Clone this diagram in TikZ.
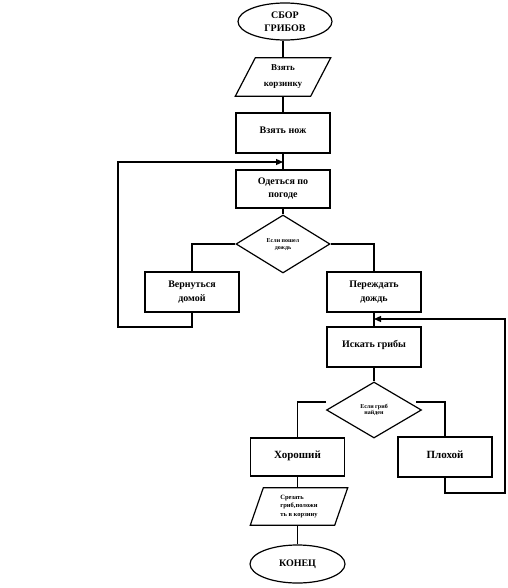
\documentclass[tikz,border=0pt]{standalone}
\usepackage{fontspec}
\setmainfont{Liberation Serif}
\usetikzlibrary{shapes.geometric,arrows.meta,calc}
\tikzset{
  ln/.style={line width=1.2pt},
  box/.style={draw, ln, rectangle, minimum width=94pt, minimum height=40pt, inner sep=0pt, align=center, font=\bfseries\fontsize{10}{14}\selectfont},
  oval/.style={draw, ln, ellipse, minimum width=94pt, minimum height=37pt, inner sep=0pt, align=center, font=\bfseries\fontsize{10}{13}\selectfont},
  dia/.style={draw, ln, diamond, minimum width=94pt, minimum height=58pt, inner sep=0pt, align=center, font=\bfseries\fontsize{6}{8}\selectfont},
  para/.style={rectangle, inner sep=0pt, align=center},
  conn/.style={ln},
  arr/.style={ln, -{Triangle[length=7pt,width=6pt]}}
}
\begin{document}
\begin{tikzpicture}[x=1pt,y=-1pt]
\useasboundingbox (0,0) rectangle (507,588);
% nodes
\node[oval] (start) at (285,21.5) {СБОР\\ГРИБОВ};
\node[para, minimum width=95pt, minimum height=38pt, font=\bfseries\fontsize{9}{16}\selectfont] (korz) at (283,77) {Взять\\корзинку};
\draw[ln] (korz.south west) -- ($(korz.north west)+(20pt,0)$) -- (korz.north east) -- ($(korz.south east)-(20pt,0)$) -- cycle;
\node[box] (nozh) at (283,133) {\raisebox{6pt}{Взять нож}};
\node[box, minimum height=38pt, font=\bfseries\fontsize{10}{13}\selectfont] (odet) at (283,189) {Одеться по\\погоде};
\node[dia] (d1) at (283,244) {\raisebox{5pt}{\begin{tabular}{@{}c@{}}Если пошел\\[-1pt]дождь\end{tabular}}};
\node[box] (vern) at (192,292) {Вернуться\\домой};
\node[box] (per) at (374,292) {Переждать\\дождь};
\node[box] (isk) at (374,347) {\raisebox{7pt}{Искать грибы}};
\node[dia, minimum width=95pt, minimum height=56pt] (d2) at (374,410) {\raisebox{3pt}{\begin{tabular}{@{}c@{}}Если гриб\\[-2pt]найден\end{tabular}}};
\node[box, minimum height=38pt, font=\bfseries\fontsize{11}{14}\selectfont] (hor) at (297.5,457) {\raisebox{5pt}{Хороший}};
\node[box, font=\bfseries\fontsize{11}{14}\selectfont] (plo) at (445,457) {\raisebox{5pt}{Плохой}};
\node[para, minimum width=97pt, minimum height=37pt, align=left, font=\bfseries\fontsize{6.5}{8.5}\selectfont] (srez) at (299,506.5) {Срезать\\гриб,положи\\ть в корзину};
\draw[ln] (srez.south west) -- ($(srez.north west)+(13pt,0)$) -- (srez.north east) -- ($(srez.south east)-(13pt,0)$) -- cycle;
\node[oval, minimum width=95pt, minimum height=38pt] (end) at (297.5,564) {КОНЕЦ};
% helper coordinates
\coordinate (lp) at (118,327);
\coordinate (lj) at (283,162);
\coordinate (rb) at (505,493);
\coordinate (rj) at (374,319);
\coordinate (d2l) at (326,402);
\coordinate (d2r) at (416,402);
% connectors
\draw[conn] (start.south -| korz.north) -- (korz.north);
\draw[conn] (korz.south) -- (nozh.north);
\draw[conn] (nozh.south) -- (odet.north);
\draw[conn] (odet.south) -- (d1.north);
\draw[conn] (d1.west) -| (vern.north);
\draw[conn] (d1.east) -| (per.north);
\draw[arr] (vern.south) |- (lp) |- (lj);
\draw[conn] (per.south) -- (isk.north);
\draw[arr] (plo.south) |- (rb) |- (rj);
\draw[conn] (isk.south) -- (d2.north);
\draw[conn] (d2l) -| (hor.north);
\draw[conn] (d2r) -| (plo.north);
\draw[conn] (hor.south) -- (hor.south |- srez.north);
\draw[conn] (srez.south -| hor.south) -- (end.north -| hor.south);
\end{tikzpicture}
\end{document}
